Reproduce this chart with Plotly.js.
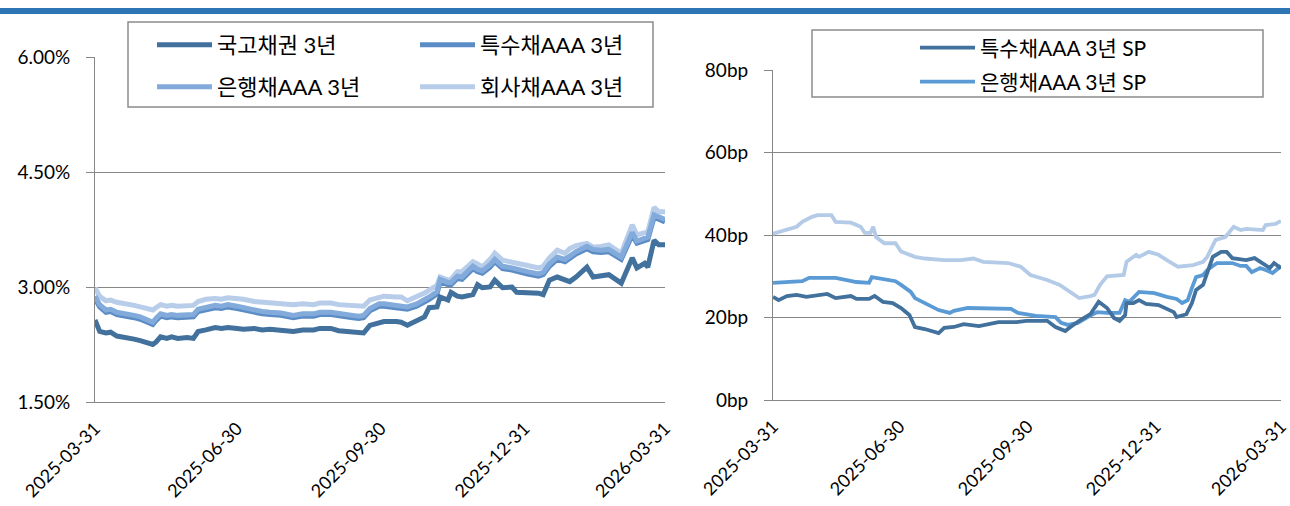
<!DOCTYPE html>
<html><head><meta charset="utf-8">
<script src="https://cdn.plot.ly/plotly-3.0.1.min.js"></script>
<style>html,body{margin:0;padding:0;background:#fff}#chart{width:1290px;height:506px}</style>
</head><body><div id="chart"></div><script>
// ---------- DATA ----------
const rateDates = ['2025-03-31','2025-04-03','2025-04-07','2025-04-10','2025-04-14','2025-04-18','2025-04-21','2025-04-25','2025-04-29','2025-05-02','2025-05-07','2025-05-09','2025-05-12','2025-05-16','2025-05-19','2025-05-23','2025-05-29','2025-06-02','2025-06-05','2025-06-10','2025-06-16','2025-06-20','2025-06-24','2025-06-30','2025-07-04','2025-07-11','2025-07-16','2025-07-21','2025-07-28','2025-08-05','2025-08-11','2025-08-18','2025-08-22','2025-08-29','2025-09-03','2025-09-08','2025-09-12','2025-09-16','2025-09-19','2025-09-23','2025-09-29',
'2025-10-02','2025-10-10','2025-10-13','2025-10-17','2025-10-23','2025-10-28','2025-10-31','2025-11-05','2025-11-07','2025-11-12','2025-11-14','2025-11-18','2025-11-21','2025-11-28','2025-12-01','2025-12-04','2025-12-09','2025-12-12','2025-12-17','2025-12-23','2025-12-26','2026-01-02','2026-01-09','2026-01-12','2026-01-16','2026-01-21','2026-01-26','2026-01-29','2026-02-02','2026-02-09','2026-02-13','2026-02-18','2026-02-23','2026-03-03','2026-03-10','2026-03-13','2026-03-18','2026-03-20','2026-03-24','2026-03-27','2026-03-31'];

const ktb3y = [2.57,2.42,2.40,2.41,2.36,2.35,2.34,2.32,2.30,2.28,2.25,2.28,2.35,2.33,2.35,2.33,2.34,2.33,2.42,2.44,2.47,2.46,2.47,2.46,2.45,2.46,2.44,2.45,2.43,2.42,2.44,2.44,2.46,2.46,2.43,2.42,2.41,2.41,2.40,2.50,2.54,
2.55,2.55,2.54,2.50,2.57,2.61,2.73,2.74,2.87,2.83,2.93,2.88,2.87,2.90,3.03,2.99,3.00,3.09,2.99,3.00,2.93,2.93,2.92,2.90,3.09,3.13,3.09,3.07,3.13,3.26,3.13,3.15,3.16,3.05,3.38,3.25,3.31,3.26,3.61,3.55,3.55];

const special3y = [2.85,2.74,2.67,2.68,2.64,2.63,2.61,2.60,2.58,2.56,2.51,2.56,2.62,2.60,2.61,2.60,2.60,2.61,2.68,2.71,2.73,2.72,2.74,2.72,2.70,2.67,2.65,2.64,2.63,2.60,2.62,2.62,2.64,2.64,2.62,2.61,2.60,2.59,2.60,2.69,2.75,
2.75,2.73,2.73,2.71,2.75,2.80,2.84,2.91,3.07,3.03,3.03,3.11,3.10,3.24,3.20,3.18,3.26,3.33,3.24,3.22,3.20,3.17,3.14,3.16,3.27,3.36,3.33,3.38,3.43,3.50,3.46,3.45,3.46,3.36,3.68,3.57,3.61,3.62,3.91,3.88,3.85];

const bank3y = [2.88,2.77,2.70,2.71,2.67,2.66,2.64,2.63,2.61,2.59,2.54,2.59,2.65,2.63,2.64,2.63,2.63,2.64,2.71,2.74,2.76,2.75,2.77,2.75,2.73,2.70,2.68,2.67,2.66,2.63,2.65,2.65,2.67,2.67,2.65,2.64,2.63,2.62,2.63,2.72,2.78,
2.78,2.76,2.76,2.74,2.78,2.83,2.87,2.94,3.10,3.06,3.06,3.14,3.13,3.27,3.23,3.21,3.29,3.36,3.27,3.25,3.23,3.20,3.17,3.19,3.30,3.39,3.36,3.41,3.46,3.53,3.49,3.48,3.49,3.39,3.71,3.60,3.64,3.65,3.94,3.91,3.88];

const corp3y = [2.99,2.88,2.82,2.83,2.80,2.79,2.77,2.76,2.74,2.73,2.70,2.73,2.77,2.75,2.76,2.75,2.75,2.76,2.81,2.84,2.85,2.84,2.86,2.85,2.84,2.81,2.80,2.80,2.79,2.77,2.78,2.77,2.79,2.79,2.77,2.76,2.75,2.74,2.75,2.83,2.87,
2.88,2.87,2.87,2.82,2.87,2.92,2.96,3.02,3.13,3.09,3.10,3.20,3.20,3.33,3.30,3.26,3.36,3.44,3.35,3.33,3.31,3.28,3.25,3.27,3.38,3.48,3.44,3.50,3.54,3.57,3.52,3.53,3.55,3.44,3.81,3.68,3.72,3.72,4.04,3.98,3.98];

const specialSpDates = ['2025-03-31','2025-04-04','2025-04-10','2025-04-17','2025-04-24','2025-04-28','2025-05-09','2025-05-15','2025-05-21','2025-05-26','2025-05-30','2025-06-08','2025-06-12','2025-06-18','2025-06-25','2025-07-01','2025-07-07','2025-07-11','2025-07-18','2025-07-28','2025-08-01','2025-08-08','2025-08-15','2025-08-26','2025-09-09','2025-09-22','2025-09-29','2025-10-14','2025-10-20','2025-10-27','2025-10-30','2025-11-06','2025-11-14','2025-11-20','2025-11-26','2025-12-01','2025-12-05','2025-12-09','2025-12-10','2025-12-15','2025-12-19','2025-12-24','2026-01-02','2026-01-08','2026-01-13','2026-01-15','2026-01-20','2026-01-22','2026-01-26','2026-01-29','2026-02-03','2026-02-06','2026-02-10','2026-02-16','2026-02-20','2026-02-24','2026-03-06','2026-03-12','2026-03-18','2026-03-23','2026-03-26','2026-03-30','2026-03-31'];
const specialSp = [25.0,24.2,25.2,25.5,25.0,25.2,25.7,24.7,25.0,25.2,24.5,24.5,25.2,23.8,23.5,22.3,20.6,17.7,17.2,16.2,17.5,17.7,18.4,17.9,18.9,18.9,19.2,19.2,17.7,16.7,17.5,19.2,20.8,23.8,22.3,19.9,19.2,20.6,23.5,23.5,24.2,23.3,23.0,22.1,21.3,20.1,20.6,20.8,23.5,26.7,27.9,30.8,34.7,35.9,35.9,34.4,33.9,34.4,33.2,32.0,33.2,32.2,32.5];

const bankSpDates = ['2025-03-31','2025-04-21','2025-04-26','2025-05-15','2025-05-30','2025-06-08','2025-06-10','2025-06-20','2025-06-27','2025-07-01','2025-07-08','2025-07-11','2025-07-21','2025-07-28','2025-08-05','2025-08-08','2025-08-18','2025-08-29','2025-09-18','2025-09-23','2025-10-06','2025-10-20','2025-10-24','2025-10-29','2025-11-05','2025-11-12','2025-11-19','2025-11-26','2025-12-05','2025-12-09','2025-12-12','2025-12-19','2025-12-30','2026-01-08','2026-01-15','2026-01-19','2026-01-23','2026-01-26','2026-01-29','2026-02-03','2026-02-06','2026-02-13','2026-02-24','2026-03-02','2026-03-06','2026-03-10','2026-03-16','2026-03-20','2026-03-25','2026-03-31'];
const bankSp = [28.4,28.8,29.6,29.6,28.6,28.4,29.8,29.1,28.8,27.9,26.2,24.7,23.0,21.8,21.1,21.6,22.3,22.3,22.1,21.1,20.4,20.1,18.7,18.2,18.7,20.1,21.3,21.1,21.1,24.2,23.8,26.2,25.9,25.0,24.5,23.5,24.2,27.2,29.8,30.3,31.5,33.2,33.2,32.5,32.5,31.0,32.0,31.5,30.8,32.5];

const corpSpDates = ['2025-03-31','2025-04-10','2025-04-17','2025-04-21','2025-04-28','2025-05-02','2025-05-12','2025-05-15','2025-05-26','2025-06-02','2025-06-05','2025-06-09','2025-06-11','2025-06-13','2025-06-19','2025-06-27','2025-07-01','2025-07-11','2025-07-18','2025-08-01','2025-08-13','2025-08-22','2025-08-29','2025-09-16','2025-09-25','2025-10-02','2025-10-14','2025-10-23','2025-10-30','2025-11-06','2025-11-14','2025-11-17','2025-11-21','2025-11-26','2025-12-08','2025-12-10','2025-12-17','2025-12-19','2025-12-26','2026-01-02','2026-01-08','2026-01-16','2026-01-27','2026-02-03','2026-02-06','2026-02-12','2026-02-19','2026-02-25','2026-03-02','2026-03-06','2026-03-18','2026-03-20','2026-03-27','2026-03-31'];
const corpSp = [40.3,41.2,42.0,43.2,44.4,44.8,44.8,43.2,43.0,42.0,40.5,40.5,42.0,39.5,38.0,38.0,36.0,34.7,34.3,33.9,33.9,34.3,33.5,33.2,32.3,30.3,29.1,27.9,26.2,24.7,25.2,25.5,27.9,30.0,30.3,33.5,35.2,34.7,35.9,35.2,33.9,32.3,32.7,33.5,34.7,38.8,39.5,42.0,41.2,41.5,41.2,42.4,42.7,43.4];

const dateTickVals = ['2025-03-31','2025-06-30','2025-09-30','2025-12-31','2026-03-31'];
const dateTickText = ['2025-03-31','2025-06-30','2025-09-30','2025-12-31','2026-03-31'];
const rateTickVals = [1.5,3.0,4.5,6.0];
const rateTickText = ['1.50%','3.00%','4.50%','6.00%'];
const spTickVals = [0,20,40,60,80];
const spTickText = ['0bp','20bp','40bp','60bp','80bp'];
const leftNames = ['국고채권 3년','특수채AAA 3년','은행채AAA 3년','회사채AAA 3년'];
const rightNames = ['특수채AAA 3년 SP','은행채AAA 3년 SP','회사채AAA 3년 SP'];

// ---------- LAYOUT ----------
const W = 1290, H = 506;
const px = x => x / W, py = y => (H - y) / H;
const FONT = "Lato, 'Noto Sans CJK KR', sans-serif";
const GRID = '#878787';

const cDark = '#41719C', cSpec = '#5B8CC6', cBank = '#82AADA', cCorp = '#B7CDEA';
const cSpDark = '#41719C', cSpMid = '#5B9BD5', cSpLight = '#B4CBE8';

const traces = [
  {x: rateDates, y: corp3y, name: leftNames[3], legend: 'legend2', line: {color: cCorp, width: 5}},
  {x: rateDates, y: special3y, name: leftNames[1], legend: 'legend', line: {color: cSpec, width: 5}},
  {x: rateDates, y: bank3y, name: leftNames[2], legend: 'legend2', line: {color: cBank, width: 5}},
  {x: rateDates, y: ktb3y, name: leftNames[0], legend: 'legend', line: {color: cDark, width: 5}},
  {x: corpSpDates, y: corpSp, name: rightNames[2], showlegend: false, xaxis: 'x2', yaxis: 'y2', line: {color: cSpLight, width: 3.8}},
  {x: bankSpDates, y: bankSp, name: rightNames[1], legend: 'legend4', xaxis: 'x2', yaxis: 'y2', line: {color: cSpMid, width: 3.8}},
  {x: specialSpDates, y: specialSp, name: rightNames[0], legend: 'legend3', xaxis: 'x2', yaxis: 'y2', line: {color: cSpDark, width: 3.8}}
].map(t => Object.assign({type: 'scatter', mode: 'lines', hoverinfo: 'skip'}, t));
traces[3].legendrank = 1; traces[1].legendrank = 2;
traces[2].legendrank = 1; traces[0].legendrank = 2;

const xCommon = {
  type: 'date', range: ['2025-03-31', '2026-03-31'], tickmode: 'array',
  tickvals: dateTickVals, ticktext: dateTickText, tickangle: -45,
  showgrid: false, zeroline: false, showline: true, linecolor: GRID, linewidth: 1,
  ticks: '', ticklabelstandoff: 8, ticklabeloverflow: 'allow',
  tickfont: {size: 18, family: FONT, color: '#000'}, fixedrange: true
};
const yCommon = {
  showgrid: true, gridcolor: GRID, gridwidth: 1, zeroline: false,
  showline: true, linecolor: GRID, linewidth: 1, ticks: 'outside', ticklen: 8,
  tickcolor: GRID, tickwidth: 1, ticklabelstandoff: 12,
  tickfont: {size: 19, family: FONT, color: '#000'}, fixedrange: true
};
const legCommon = {
  orientation: 'h', bgcolor: 'rgba(0,0,0,0)', borderwidth: 0, xanchor: 'left', yanchor: 'middle',
  itemwidth: 55, font: {size: 22, family: FONT, color: '#000'}, traceorder: 'normal',
  itemclick: false, itemdoubleclick: false
};

const layout = {
  width: W, height: H, margin: {l: 0, r: 0, t: 0, b: 0},
  paper_bgcolor: '#fff', plot_bgcolor: 'rgba(0,0,0,0)',
  font: {family: FONT, size: 19, color: '#000'},
  showlegend: true,
  xaxis: Object.assign({}, xCommon, {domain: [px(95), px(665)], anchor: 'y'}),
  yaxis: Object.assign({}, yCommon, {domain: [py(402), py(57)], anchor: 'x', range: [1.5, 6.0],
    tickmode: 'array', tickvals: rateTickVals, ticktext: rateTickText}),
  xaxis2: Object.assign({}, xCommon, {domain: [px(773), px(1281)], anchor: 'y2'}),
  yaxis2: Object.assign({}, yCommon, {domain: [py(400), py(70)], anchor: 'x2', range: [0, 80],
    tickmode: 'array', tickvals: spTickVals, ticktext: spTickText}),
  legend: Object.assign({}, legCommon, {x: px(152), y: py(45), entrywidth: 193}),
  legend2: Object.assign({}, legCommon, {x: px(152), y: py(87), entrywidth: 193}),
  legend3: Object.assign({}, legCommon, {x: px(915), y: py(48), font: {size: 21, family: FONT, color: '#000'}}),
  legend4: Object.assign({}, legCommon, {x: px(915), y: py(82), font: {size: 21, family: FONT, color: '#000'}}),
  shapes: [
    {type: 'rect', xref: 'paper', yref: 'paper', x0: 0, x1: 1, y0: py(14), y1: py(8),
     fillcolor: '#2E75B6', line: {width: 0}, layer: 'above'},
    {type: 'rect', xref: 'paper', yref: 'paper', x0: px(128), x1: px(653), y0: py(107), y1: py(22),
     fillcolor: '#fff', line: {color: '#8C8C8C', width: 1.5}, layer: 'above'},
    {type: 'rect', xref: 'paper', yref: 'paper', x0: px(812), x1: px(1263), y0: py(97), y1: py(30),
     fillcolor: '#fff', line: {color: '#8C8C8C', width: 1.5}, layer: 'above'}
  ]
};

Plotly.newPlot('chart', traces, layout, {displayModeBar: false, staticPlot: true});
</script></body></html>
